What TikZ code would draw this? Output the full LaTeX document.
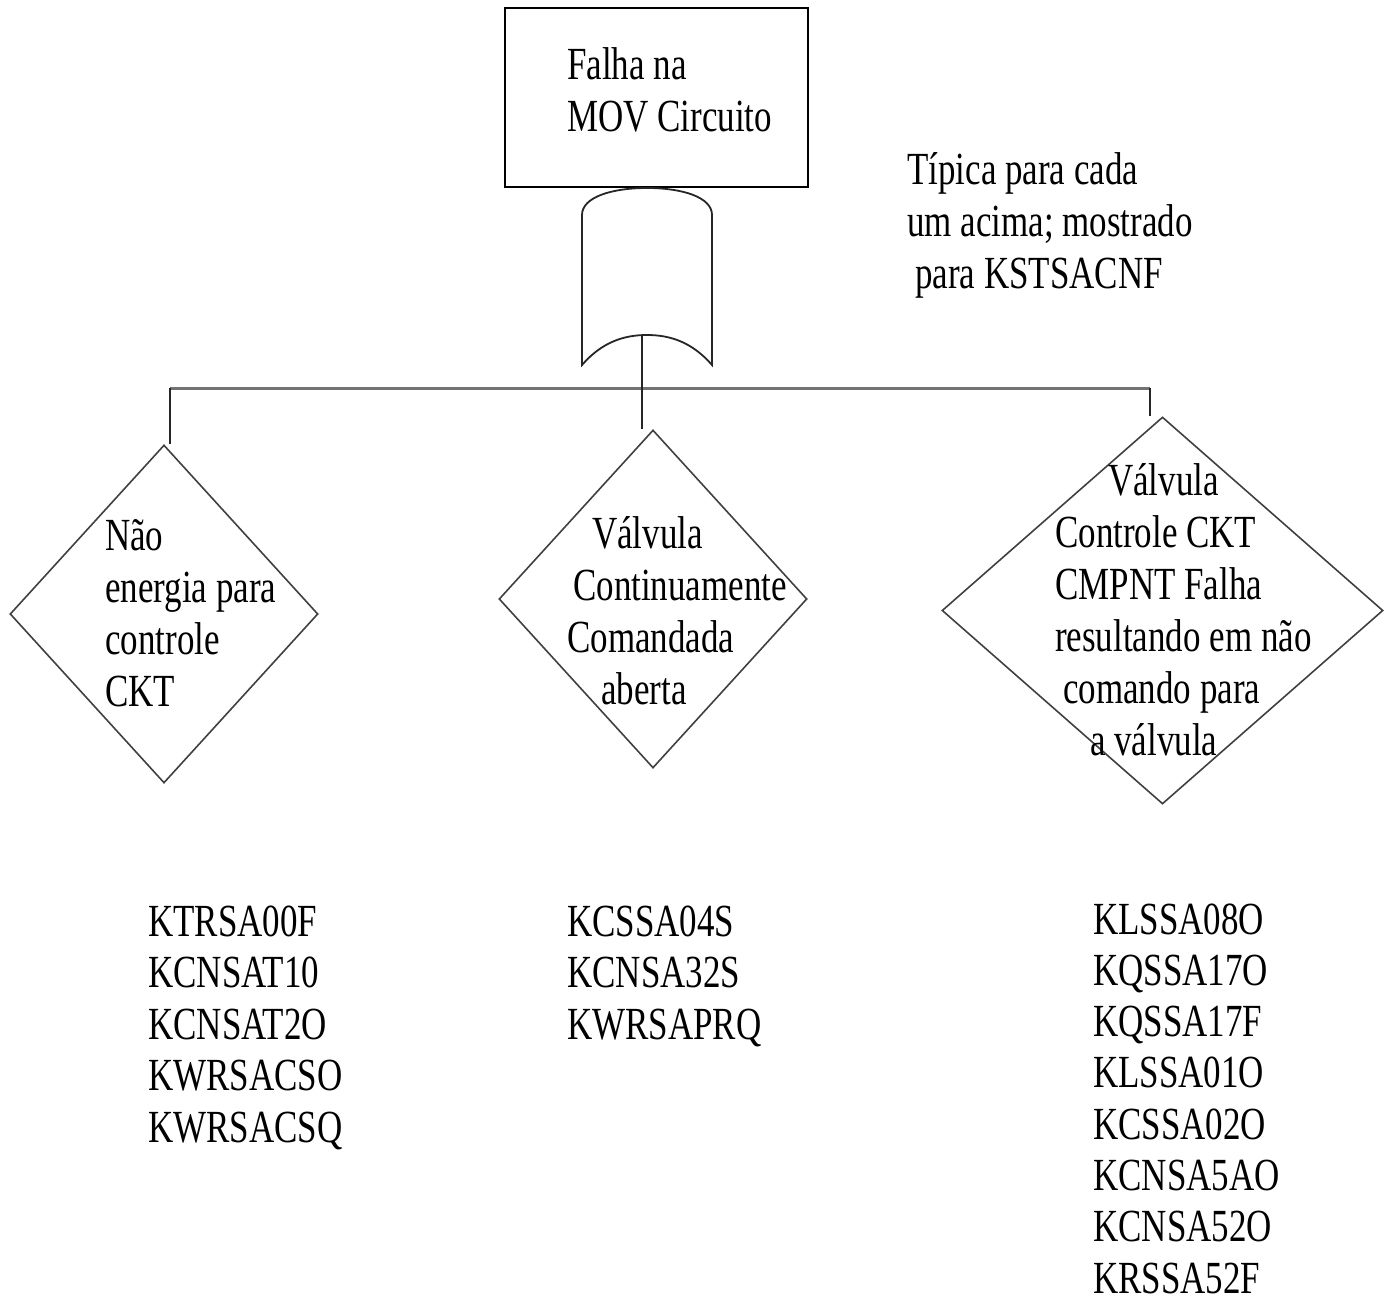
\documentclass[tikz,border=0pt]{standalone}
\usepackage{fontspec}
\setmainfont{Liberation Serif}[FakeStretch=0.76]
\usetikzlibrary{shapes.geometric}

\begin{document}
\begin{tikzpicture}[x=1pt, y=-1pt, every node/.style={font=\fontsize{46}{52}\selectfont}]
\tikzset{
  evbox/.style={draw, line width=2pt, minimum width=303pt, minimum height=179pt, inner sep=0pt},
  cond/.style={diamond, draw=black!75, line width=1.6pt, inner sep=0pt},
  lbl/.style={anchor=base west, inner sep=0pt},
  link/.style={line width=1.8pt, draw=black!85},
  bus/.style={line width=3pt, draw=black!55}
}
\useasboundingbox (0,0) rectangle (1391,1305);

% Top event
\node[evbox] (top) at (656.5,97.5) {};
\node[lbl] (top-a) at (567,80) {Falha na};
\node[lbl] (top-b) at (567,132) {MOV Circuito};

% Note
\foreach \x/\s [count=\i from 0] in {907/Típica para cada, 907/um acima; mostrado, 915/para KSTSACNF}
  \node[lbl] (note-\i) at (\x, 185+52*\i) {\s};

% OR gate
\coordinate (gate-in) at (647,188);
\coordinate (gate-out) at (642,335);
\draw[link] (582,365) -- (582,215) .. controls (582,197) and (612,188) .. (gate-in)
  .. controls (682,188) and (712,197) .. (712,215) -- (712,365)
  .. controls (692,342) and (670,335) .. (647,335)
  .. controls (624,335) and (602,342) .. cycle;

% Conditions
\node[cond, minimum width=308pt, minimum height=338pt] (c-left) at (164,614) {};
\node[cond, minimum width=308pt, minimum height=338pt] (c-mid) at (653,599) {};
\node[cond, minimum width=441pt, minimum height=387pt] (c-right) at (1162.5,610.5) {};

\foreach \s [count=\i from 0] in {Não, energia para, controle, CKT}
  \node[lbl] (cl-\i) at (105, 550+52*\i) {\s};
\foreach \x/\s [count=\i from 0] in {592/Válvula, 573/Continuamente, 567/Comandada, 601/aberta}
  \node[lbl] (cm-\i) at (\x, 548+52*\i) {\s};
\foreach \x/\s [count=\i from 0] in {1108/Válvula, 1055/Controle CKT, 1055/CMPNT Falha, 1055/resultando em não, 1063/comando para, 1090/a válvula}
  \node[lbl] (cr-\i) at (\x, 495+52*\i) {\s};

% Connectors
\coordinate (bus-l) at (170,388);
\coordinate (bus-r) at (1150,388);
\draw[bus] (bus-l) -- (bus-r);
\draw[link] (bus-l) -- (bus-l |- c-left.north);
\draw[link] (bus-r) -- (bus-r |- c-right.north);
\draw[link] (gate-out) -- (gate-out |- c-mid.north);

% Basic events
\foreach \s [count=\i from 0] in {KTRSA00F, KCNSAT10, KCNSAT2O, KWRSACSO, KWRSACSQ}
  \node[lbl] (el-\i) at (148, 936+51.5*\i) {\s};
\foreach \s [count=\i from 0] in {KCSSA04S, KCNSA32S, KWRSAPRQ}
  \node[lbl] (em-\i) at (567, 936+51.5*\i) {\s};
\foreach \s [count=\i from 0] in {KLSSA08O, KQSSA17O, KQSSA17F, KLSSA01O, KCSSA02O, KCNSA5AO, KCNSA52O, KRSSA52F}
  \node[lbl] (er-\i) at (1093, 934+51.3*\i) {\s};
\end{tikzpicture}
\end{document}
